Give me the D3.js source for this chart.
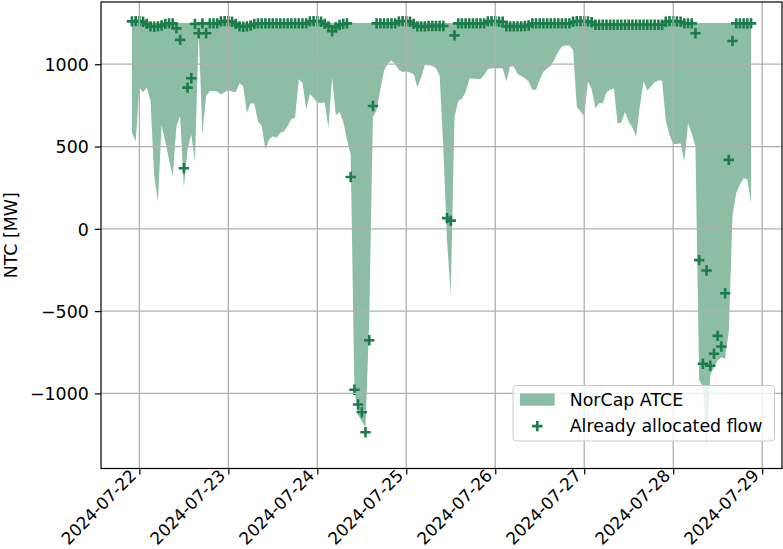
<!DOCTYPE html>
<html><head><meta charset="utf-8">
<script src="https://cdn.jsdelivr.net/npm/d3@7"></script>
<style>body{margin:0;background:#fff} svg{display:block} text{font-family:"DejaVu Sans",sans-serif}</style>
</head><body><svg id="chart" width="783" height="549"></svg>
<script>
// ---- data ----
const startTime = "2024-07-21T22:00:00Z";   // first hourly value
const lowerNTC = [
583,530,860,830,858,780,320,166,630,530,
420,320,624,685,250,482,573,410,1200,573,
807,837,837,835,817,830,843,833,829,884,
868,705,762,762,654,624,482,543,563,553,
583,593,624,669,675,909,888,726,817,797,
766,766,766,614,919,690,710,650,543,450,
-980,-1130,-1170,-1205,-560,680,720,850,960,1005,
1022,1000,965,953,958,950,939,860,919,995,
993,990,975,930,480,-80,-400,680,775,790,
830,913,913,910,910,935,970,976,976,976,
975,895,986,986,940,930,915,895,845,845,
905,955,975,990,1030,1077,1108,1113,1113,1087,
740,715,682,895,850,733,763,763,830,845,
854,642,645,712,650,615,560,743,895,840,
865,890,901,901,660,570,515,515,520,410,
640,580,500,-920,-960,-1320,-890,-840,-800,-780,
-790,-620,80,217,270,308,300,160];
const upperNTC = [
1250,1250,1250,1250,1250,1250,1250,1250,1250,1250,1250,1250,1250,1250,1250,1250,1250,1250,1250,1250,1250,1250,1250,1250,
1250,1250,1250,1250,1250,1250,1250,1250,1250,1250,1250,1250,1250,1250,1250,1250,1250,1250,1250,1250,1250,1250,1250,1250,
1250,1250,1250,1250,1250,1250,1250,1250,1250,1250,1250,1250,1250,1250,1250,1250,1250,1250,1250,1250,1250,1250,1250,1250,
1250,1250,1250,1250,1250,1250,1250,1250,1250,1250,1250,1250,1250,1250,1250,1250,1250,1250,1250,1250,1250,1250,1250,1250,
1250,1250,1250,1250,1250,1250,1250,1250,1250,1250,1250,1250,1250,1250,1250,1250,1250,1250,1250,1250,1250,1250,1250,1250,
1250,1250,1250,1250,1250,1250,1250,1250,1250,1250,1250,1250,1250,1250,1250,1250,1250,1250,1250,1250,1250,1250,1250,1250,
1250,1250,1250,1250,1250,1250,1250,1250,1250,1250,1250,1250,1250,1250,1250,1250,1250,1250,1250,1250,1250,1250,1250,1250];
const allocatedFlow = [
1260,1262,
1262,1258,1245,1230,1228,1230,1235,1245,1248,1248,1218,1148,368,858,915,1245,1188,1248,1188,1248,1248,1248,1260,1262,
1262,1258,1245,1230,1228,1230,1235,1245,1248,1248,1248,1248,1248,1248,1248,1248,1248,1248,1248,1248,1248,1248,1260,1262,
1262,1258,1245,1230,1200,1225,1238,1245,1248,315,-978,-1067,-1114,-1236,-677,746,1248,1248,1248,1248,1248,1248,1260,1262,
1262,1258,1245,1230,1230,1230,1232,1232,1232,1232,1232,65,50,1175,1248,1248,1248,1248,1248,1248,1248,1248,1260,1262,
1262,1258,1258,1230,1230,1230,1230,1230,1232,1235,1248,1248,1248,1248,1248,1248,1248,1248,1248,1248,1248,1258,1262,1262,
1262,1260,1255,1240,1240,1240,1240,1240,1240,1240,1240,1240,1240,1240,1240,1240,1240,1240,1240,1240,1240,1240,1258,1262,
1262,1260,1258,1248,1248,1248,1188,-190,-820,-253,-832,-759,-650,-715,-391,419,1141,1248,1248,1248,1248,1248];
const yTickValues = [-1000, -500, 0, 500, 1000];
const xTickLabels = ["2024-07-22","2024-07-23","2024-07-24","2024-07-25","2024-07-26","2024-07-27","2024-07-28","2024-07-29"];
const legendLabels = ["NorCap ATCE", "Already allocated flow"];
const yLabel = "NTC [MW]";
const yLimits = [-1456, 1378];

// ---- layout / style ----
const W = 783, H = 549;
const plot = {left: 101, right: 782, top: 2, bottom: 468.5};
const fs = 17.4;
const fsX = 16.8;
const darkGreen = "#1b7d4c";
const tickLen = 6.1, tickPad = 6.1;

const svg = d3.select("#chart");
const t0 = new Date(startTime);
const times = d3.utcHour.range(t0, d3.utcHour.offset(t0, lowerNTC.length));
const tFirst = times[0], tLast = times[times.length - 1];
const pad = 0.05 * (tLast - tFirst);
const x = d3.scaleUtc().domain([new Date(+tFirst - pad), new Date(+tLast + pad)]).range([plot.left, plot.right]);
const y = d3.scaleLinear().domain(yLimits).range([plot.bottom, plot.top]);

const rows = times.map((t, i) => ({t, lo: lowerNTC[i], hi: upperNTC[i], f: allocatedFlow[i]}));

svg.append("defs").append("clipPath").attr("id", "clip")
  .append("rect").attr("x", plot.left).attr("y", plot.top)
  .attr("width", plot.right - plot.left).attr("height", plot.bottom - plot.top);

const g = svg.append("g").attr("clip-path", "url(#clip)");

// area
const area = d3.area().x(d => x(d.t)).y0(d => y(d.lo)).y1(d => y(d.hi));
g.append("path").datum(rows).attr("d", area)
  .attr("fill", darkGreen).attr("fill-opacity", 0.5);

// markers
const plusPath = "M-5.2,0H5.2M0,-5.2V5.2";
g.selectAll("path.pt").data(rows).join("path").attr("class", "pt")
  .attr("d", plusPath)
  .attr("transform", d => `translate(${x(d.t)},${y(d.f)})`)
  .attr("stroke", darkGreen).attr("stroke-width", 2.6).attr("fill", "none");

// grid
const xTicks = xTickLabels.map(s => new Date(s + "T00:00:00Z"));
const grid = svg.append("g");
grid.selectAll("line.gx").data(xTicks).join("line")
  .attr("x1", d => x(d)).attr("x2", d => x(d)).attr("y1", plot.top).attr("y2", plot.bottom)
  .attr("stroke", "#b0b0b0").attr("stroke-width", 1.3);
grid.selectAll("line.gy").data(yTickValues).join("line")
  .attr("y1", d => y(d)).attr("y2", d => y(d)).attr("x1", plot.left).attr("x2", plot.right)
  .attr("stroke", "#b0b0b0").attr("stroke-width", 1.3);

// axes
const xAxis = d3.axisBottom(x).tickValues(xTicks).tickFormat((d, i) => xTickLabels[i])
  .tickSize(tickLen).tickPadding(tickPad);
const gx = svg.append("g").attr("transform", `translate(0,${plot.bottom})`).call(xAxis);
gx.select(".domain").remove();
gx.selectAll(".tick line").attr("stroke", "#000").attr("stroke-width", 1.2);
gx.selectAll(".tick text")
  .attr("x", null).attr("y", null).attr("dy", null)
  .attr("text-anchor", "end")
  .attr("font-size", fsX).attr("fill", "#000")
  .attr("font-family", "DejaVu Sans")
  .attr("transform", `translate(-2.5,8.2) rotate(-45)`);

const yAxis = d3.axisLeft(y).tickValues(yTickValues)
  .tickFormat(d => d < 0 ? "\u2212" + Math.abs(d) : String(d))
  .tickSize(tickLen).tickPadding(tickPad);
const gy = svg.append("g").attr("transform", `translate(${plot.left},0)`).call(yAxis);
gy.select(".domain").remove();
gy.selectAll(".tick line").attr("stroke", "#000").attr("stroke-width", 1.2);
gy.selectAll(".tick text").attr("font-size", fs).attr("fill", "#000")
  .attr("font-family", "DejaVu Sans").attr("dy", "0.36em");

// y label
svg.append("text").attr("transform", `translate(17,${(plot.top + plot.bottom) / 2}) rotate(-90)`)
  .attr("text-anchor", "middle").attr("font-size", fs).attr("fill", "#000").text(yLabel);

// spines
svg.append("rect").attr("x", plot.left).attr("y", plot.top)
  .attr("width", plot.right - plot.left).attr("height", plot.bottom - plot.top)
  .attr("fill", "none").attr("stroke", "#000").attr("stroke-width", 1.2);

// legend
const lg = svg.append("g");
const lx = 513, ly = 385.5, lw = 261.5, lh = 55.5;
lg.append("rect").attr("x", lx).attr("y", ly).attr("width", lw).attr("height", lh)
  .attr("rx", 3.5).attr("fill", "#fff").attr("fill-opacity", 0.8)
  .attr("stroke", "#cccccc").attr("stroke-width", 1);
const handleX = lx + 7, handleW = 34.7, textX = handleX + handleW + 15;
const baselines = [405.7, 432.2];
lg.append("rect").attr("x", handleX).attr("y", baselines[0] - 0.35 * fs - 6.1)
  .attr("width", handleW).attr("height", 12.2)
  .attr("fill", darkGreen).attr("fill-opacity", 0.5);
lg.append("path").attr("d", plusPath)
  .attr("transform", `translate(${handleX + handleW / 2},${baselines[1] - 0.35 * fs})`)
  .attr("stroke", darkGreen).attr("stroke-width", 2.6).attr("fill", "none");
lg.selectAll("text.lt").data(legendLabels).join("text").attr("class", "lt")
  .attr("x", textX).attr("y", (d, i) => baselines[i])
  .attr("font-size", fs).attr("fill", "#000").text(d => d);
</script></body></html>
